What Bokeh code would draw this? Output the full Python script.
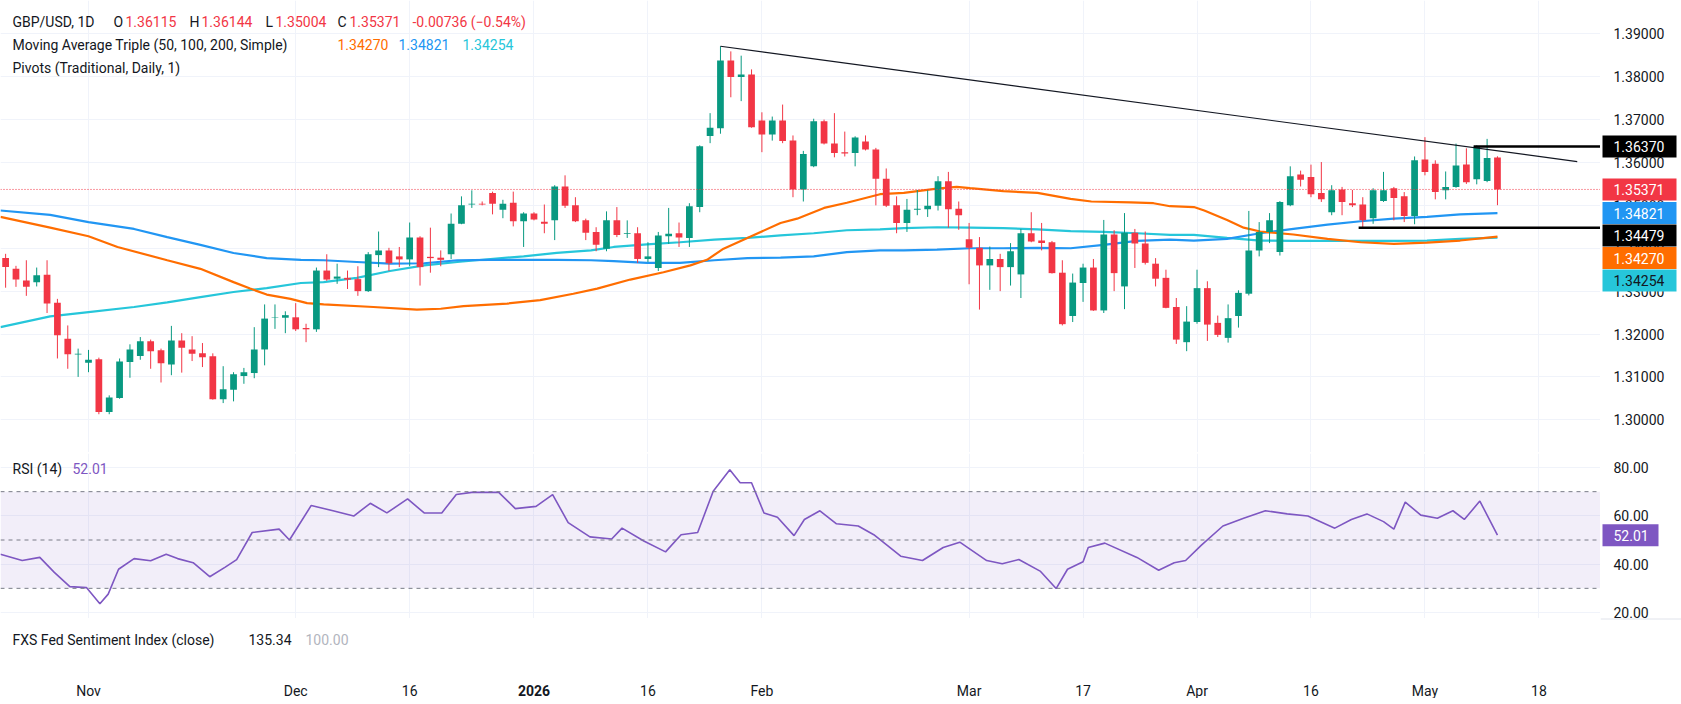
from bokeh.plotting import figure
from bokeh.layouts import column, row
from bokeh.models import ColumnDataSource, FixedTicker, Range1d, Label, Span, BoxAnnotation, Spacer
from bokeh.core.properties import value
from bokeh.embed import file_html
from bokeh.resources import INLINE

# ---------------- data ----------------
# trading-day index (0 = 3 Nov 2025)
bar_x = list(range(-8, 137))
opens = [1.3377, 1.3352, 1.3325, 1.3321, 1.3338, 1.3273, 1.3189, 1.3152, 1.3133, 1.3141, 1.3018, 1.3051, 1.3135, 1.3149, 1.3183, 1.3162, 1.3129, 1.3185, 1.3164, 1.3155, 1.3148, 1.3048, 1.3070, 1.3102, 1.3109, 1.3164, 1.3238, 1.3238, 1.3239, 1.3214, 1.3211, 1.3348, 1.3329, 1.3331, 1.3328, 1.3300, 1.3384, 1.3395, 1.3381, 1.3374, 1.3425, 1.3380, 1.3378, 1.3386, 1.3457, 1.3502, 1.3504, 1.3529, 1.3490, 1.3506, 1.3463, 1.3481, 1.3462, 1.3465, 1.3544, 1.3500, 1.3465, 1.3438, 1.3399, 1.3465, 1.3433, 1.3435, 1.3375, 1.3354, 1.3428, 1.3435, 1.3424, 1.3496, 1.3662, 1.3680, 1.3838, 1.3799, 1.3805, 1.3698, 1.3665, 1.3698, 1.3651, 1.3537, 1.3591, 1.3696, 1.3644, 1.3624, 1.3622, 1.3649, 1.3630, 1.3562, 1.3500, 1.3459, 1.3490, 1.3491, 1.3499, 1.3556, 1.3492, 1.3421, 1.3401, 1.3360, 1.3375, 1.3356, 1.3339, 1.3435, 1.3418, 1.3414, 1.3343, 1.3242, 1.3319, 1.3355, 1.3255, 1.3432, 1.3311, 1.3436, 1.3411, 1.3364, 1.3331, 1.3263, 1.3181, 1.3228, 1.3307, 1.3226, 1.3191, 1.3242, 1.3294, 1.3395, 1.3438, 1.3391, 1.3500, 1.3572, 1.3566, 1.3529, 1.3484, 1.3537, 1.3505, 1.3502, 1.3470, 1.3510, 1.3540, 1.3521, 1.3475, 1.3607, 1.3597, 1.3535, 1.3543, 1.3595, 1.3561, 1.3557, 1.36115]
highs = [1.3387, 1.3359, 1.3372, 1.3355, 1.3372, 1.3282, 1.3220, 1.3166, 1.3163, 1.3145, 1.3057, 1.3143, 1.3176, 1.3193, 1.3187, 1.3166, 1.3219, 1.3202, 1.3195, 1.3179, 1.3155, 1.3125, 1.3111, 1.3121, 1.3216, 1.3269, 1.3269, 1.3253, 1.3272, 1.3224, 1.3355, 1.3386, 1.3364, 1.3348, 1.3358, 1.3391, 1.3439, 1.3401, 1.3403, 1.3460, 1.3428, 1.3448, 1.3395, 1.3481, 1.3521, 1.3535, 1.3509, 1.3532, 1.3513, 1.3532, 1.3484, 1.3484, 1.3502, 1.3547, 1.3570, 1.3519, 1.3469, 1.3449, 1.3486, 1.3496, 1.3465, 1.3449, 1.3414, 1.3438, 1.3494, 1.3460, 1.3505, 1.3640, 1.3715, 1.3871, 1.3859, 1.3849, 1.3817, 1.3717, 1.3707, 1.3735, 1.3663, 1.3627, 1.3702, 1.3700, 1.3715, 1.3672, 1.3661, 1.3663, 1.3634, 1.3586, 1.3521, 1.3515, 1.3536, 1.3535, 1.3568, 1.3578, 1.3509, 1.3459, 1.3426, 1.3404, 1.3387, 1.3412, 1.3445, 1.3484, 1.3459, 1.3417, 1.3372, 1.3341, 1.3364, 1.3375, 1.3466, 1.3442, 1.3482, 1.3445, 1.3439, 1.3377, 1.3350, 1.3284, 1.3265, 1.3350, 1.3323, 1.3243, 1.3269, 1.3302, 1.3487, 1.3461, 1.3482, 1.3510, 1.3591, 1.3581, 1.3595, 1.3601, 1.3547, 1.3543, 1.3536, 1.3519, 1.3540, 1.3578, 1.3543, 1.3531, 1.3614, 1.3659, 1.3605, 1.3579, 1.3644, 1.3633, 1.3640, 1.3655, 1.36144]
lows = [1.3308, 1.3310, 1.3289, 1.3311, 1.3249, 1.3143, 1.3119, 1.3100, 1.3111, 1.3013, 1.3013, 1.3049, 1.3098, 1.3140, 1.3119, 1.3087, 1.3104, 1.3110, 1.3137, 1.3123, 1.3047, 1.3039, 1.3043, 1.3084, 1.3097, 1.3127, 1.3212, 1.3202, 1.3207, 1.3181, 1.3205, 1.3324, 1.3317, 1.3305, 1.3289, 1.3298, 1.3356, 1.3347, 1.3356, 1.3358, 1.3313, 1.3343, 1.3358, 1.3375, 1.3456, 1.3494, 1.3500, 1.3479, 1.3470, 1.3451, 1.3403, 1.3465, 1.3435, 1.3419, 1.3494, 1.3461, 1.3419, 1.3393, 1.3393, 1.3426, 1.3424, 1.3366, 1.3368, 1.3347, 1.3410, 1.3403, 1.3403, 1.3484, 1.3645, 1.3667, 1.3752, 1.3743, 1.3681, 1.3624, 1.3651, 1.3645, 1.3519, 1.3509, 1.3589, 1.3642, 1.3612, 1.3614, 1.3591, 1.3628, 1.3500, 1.3496, 1.3435, 1.3438, 1.3477, 1.3473, 1.3488, 1.3448, 1.3443, 1.3316, 1.3257, 1.3303, 1.3300, 1.3313, 1.3284, 1.3414, 1.3395, 1.3341, 1.3220, 1.3228, 1.3275, 1.3254, 1.3249, 1.3300, 1.3258, 1.3354, 1.3362, 1.3311, 1.3260, 1.3177, 1.3160, 1.3224, 1.3184, 1.3193, 1.3180, 1.3215, 1.3290, 1.3381, 1.3412, 1.3383, 1.3498, 1.3544, 1.3519, 1.3508, 1.3477, 1.3477, 1.3496, 1.3449, 1.3457, 1.3508, 1.3465, 1.3461, 1.3456, 1.3570, 1.3514, 1.3514, 1.3541, 1.3550, 1.3549, 1.3554, 1.35004]
closes = [1.3356, 1.3327, 1.3310, 1.3337, 1.3271, 1.3197, 1.3153, 1.3154, 1.3140, 1.3018, 1.3052, 1.3136, 1.3164, 1.3183, 1.3160, 1.3132, 1.3185, 1.3168, 1.3154, 1.3146, 1.3048, 1.3071, 1.3106, 1.3111, 1.3164, 1.3236, 1.3239, 1.3244, 1.3211, 1.3211, 1.3348, 1.3327, 1.3334, 1.3327, 1.3300, 1.3386, 1.3395, 1.3365, 1.3374, 1.3425, 1.3356, 1.3377, 1.3373, 1.3457, 1.3500, 1.3504, 1.3502, 1.3504, 1.3504, 1.3463, 1.3481, 1.3467, 1.3457, 1.3544, 1.3499, 1.3463, 1.3436, 1.3408, 1.3465, 1.3431, 1.3435, 1.3375, 1.3381, 1.3430, 1.3434, 1.3425, 1.3498, 1.3638, 1.3681, 1.3838, 1.3799, 1.3805, 1.3682, 1.3665, 1.3698, 1.3650, 1.3537, 1.3620, 1.3696, 1.3644, 1.3622, 1.3621, 1.3658, 1.3630, 1.3562, 1.3499, 1.3459, 1.3490, 1.3492, 1.3499, 1.3556, 1.3491, 1.3477, 1.3401, 1.3360, 1.3375, 1.3356, 1.3393, 1.3435, 1.3416, 1.3412, 1.3342, 1.3223, 1.3320, 1.3355, 1.3255, 1.3432, 1.3342, 1.3436, 1.3411, 1.3366, 1.3329, 1.3261, 1.3187, 1.3229, 1.3307, 1.3222, 1.3198, 1.3237, 1.3296, 1.3395, 1.3438, 1.3465, 1.3508, 1.3568, 1.3560, 1.3526, 1.3514, 1.3535, 1.3508, 1.3500, 1.3465, 1.3535, 1.3535, 1.3517, 1.3475, 1.3605, 1.3578, 1.3531, 1.3543, 1.3593, 1.3554, 1.3637, 1.36107, 1.35371]

# moving averages (50, 100, 200 simple), sampled along the bar index
sma50_x = [-8.5, -3.7, 0, 2.8, 7.6, 10.8, 14, 15.6, 17.2, 19.5, 21.1, 22.7, 27.5, 31.7, 34, 36.2, 40.4, 43.6, 46.8, 49.1, 52.3, 55.5, 58.1, 59.7, 61.3, 63.6, 66.8, 68.4, 71, 73.2, 76.4, 78.7, 81.9, 83.8, 85.1, 88.3, 91.6, 94.8, 96.8, 100.6, 102.8, 104.4, 106.7, 107.7, 109.9, 111.5, 113.1, 116.3, 119.6, 122.8, 126, 129.2, 132.4, 136]
sma50_y = [1.3473, 1.3448, 1.3428, 1.3403, 1.3372, 1.3352, 1.3321, 1.3306, 1.3292, 1.3282, 1.3272, 1.3269, 1.3263, 1.3257, 1.3259, 1.3265, 1.3271, 1.3279, 1.3294, 1.3306, 1.3327, 1.3344, 1.3360, 1.3373, 1.3399, 1.3424, 1.3459, 1.3469, 1.3494, 1.3506, 1.3526, 1.3529, 1.3539, 1.3543, 1.3540, 1.3533, 1.3529, 1.3515, 1.3509, 1.3507, 1.3505, 1.3498, 1.3496, 1.3488, 1.3466, 1.3448, 1.3439, 1.3432, 1.3422, 1.3414, 1.3410, 1.3413, 1.3418, 1.3427]
sma100_x = [-8.5, -3.7, 0, 4.4, 7.6, 10.8, 14, 17.2, 20.5, 22.7, 25.9, 29.1, 32.4, 35.6, 38.8, 42, 45.2, 48.5, 50.7, 53.9, 57.1, 60.4, 63.6, 66.8, 70, 73.2, 76.4, 78.7, 81.9, 85.1, 88.3, 91.6, 94.8, 98, 101.2, 104.4, 106.7, 109.9, 113.1, 116.3, 119.6, 122.8, 126, 129.2, 132.4, 136]
sma100_y = [1.3488, 1.3478, 1.3461, 1.3445, 1.3426, 1.3408, 1.3389, 1.3377, 1.3373, 1.3372, 1.3368, 1.3364, 1.3365, 1.3372, 1.3373, 1.3373, 1.3373, 1.3372, 1.3370, 1.3366, 1.3366, 1.3372, 1.3377, 1.3378, 1.3381, 1.3391, 1.3395, 1.3395, 1.3397, 1.3400, 1.3400, 1.3401, 1.3400, 1.3408, 1.3417, 1.3420, 1.3418, 1.3422, 1.3435, 1.3445, 1.3455, 1.3463, 1.3469, 1.3473, 1.3479, 1.3482]
sma200_x = [-8.5, -3.7, 0, 4.4, 7.6, 10.8, 14, 17.2, 20.5, 22.7, 25.9, 29.1, 32.4, 35.6, 38.8, 42, 45.2, 48.5, 50.7, 53.9, 57.1, 60.4, 63.6, 66.8, 70, 73.2, 76.4, 78.7, 81.9, 85.1, 88.3, 91.6, 94.8, 98, 101.2, 104.4, 106.7, 109.9, 113.1, 116.3, 119.6, 122.8, 126, 129.2, 132.4, 136]
sma200_y = [1.3216, 1.3241, 1.3251, 1.3263, 1.3274, 1.3286, 1.3298, 1.3307, 1.3319, 1.3321, 1.3331, 1.3347, 1.3360, 1.3368, 1.3375, 1.3381, 1.3389, 1.3395, 1.3403, 1.3409, 1.3414, 1.3420, 1.3424, 1.3430, 1.3435, 1.3442, 1.3444, 1.3447, 1.3449, 1.3448, 1.3447, 1.3444, 1.3440, 1.3438, 1.3435, 1.3431, 1.3431, 1.3424, 1.3418, 1.3417, 1.3417, 1.3417, 1.3417, 1.3418, 1.3422, 1.3425]

# RSI(14)
rsi_x = [-8.5, -6.4, -4.7, -3.3, -1.8, -0.2, 1.1, 1.9, 2.9, 4.4, 6.0, 7.5, 8.6, 10.1, 11.7, 13.2, 14.3, 15.8, 18.4, 19.4, 21.5, 23.6, 25.6, 27.2, 28.8, 30.8, 32.4, 34.1, 35.5, 37.0, 39.6, 41.2, 43.2, 44.8, 46.3, 48.4, 50.5, 51.5, 53.6, 55.7, 57.2, 58.8, 60.3, 61.9, 62.9, 64.0, 65.2, 66.5, 68.1, 69.1, 70.6, 72.2, 74.3, 75.8, 78.4, 80.5, 82.5, 84.1, 86.7, 88.2, 89.8, 91.9, 93.4, 94.5, 96.0, 96.5, 98.1, 101.2, 103.3, 104.8, 105.9, 107.4, 109.5, 111.5, 113.6, 115.7, 117.7, 120.3, 121.9, 123.4, 125.0, 126.0, 127.1, 128.6, 130.2, 131.7, 132.8, 134.3, 136]
rsi_y = [44.1, 41.5, 42.8, 36.6, 30.7, 30.3, 23.6, 27.6, 37.9, 42.3, 41.4, 44.1, 42.3, 40.6, 34.8, 38.8, 41.9, 53.1, 54.5, 50.0, 64.3, 62.1, 59.9, 65.2, 61.2, 67.0, 61.2, 61.2, 68.8, 69.7, 69.7, 63.0, 63.9, 68.8, 57.2, 51.3, 50.4, 54.9, 49.6, 45.1, 52.2, 53.1, 70.2, 79.1, 73.7, 73.7, 61.2, 59.4, 51.8, 58.5, 62.1, 56.7, 55.8, 52.2, 43.3, 41.5, 46.9, 49.1, 41.5, 40.2, 41.9, 37.0, 29.9, 37.9, 41.0, 46.9, 48.7, 42.8, 37.5, 40.6, 41.5, 47.8, 55.8, 59.0, 62.1, 60.8, 59.9, 54.9, 58.5, 60.8, 57.6, 54.5, 65.7, 60.3, 59.0, 62.1, 58.5, 66.1, 52.01]

# drawn objects
trend_x = [61, 143.7]
trend_y = [1.3871, 1.3602]
pivot_hi = 1.36370
pivot_lo = 1.34479
pivot_hi_start = 133.7
pivot_lo_start = 122.6
last_close = 1.35371
ma_last = [1.34270, 1.34821, 1.34254]
rsi_last = 52.01

price_ticks = [1.30, 1.31, 1.32, 1.33, 1.34, 1.35, 1.36, 1.37, 1.38, 1.39]
rsi_ticks = [20, 40, 60, 80]
date_ticks = [0, 20, 31, 43, 54, 65, 85, 96, 107, 118, 129, 140]
date_labels = ["Nov", "Dec", "16", "2026", "16", "Feb", "Mar", "17", "Apr", "16", "May", "18"]
year_tick = 43

# ---------------- styling ----------------
FONT = "Roboto"
TXT = "#131722"
UP = "#089981"
DOWN = "#f23645"
C50, C100, C200 = "#ff6d00", "#2196f3", "#26c6da"
PURPLE = "#7e57c2"
GRID = "#f0f3fa"
SEP = "#e0e3eb"
W = 1681
AXIS_W = 81
FRAME_W = W - AXIS_W
BAR_PX = 10.36
X0 = -88 / BAR_PX
X1 = X0 + FRAME_W / BAR_PX
xr = Range1d(X0, X1)

MAIN_H = 452
P_PX = 4289.0
P_TOP = 1.39 + 33.3 / P_PX
main_yr = Range1d(P_TOP - MAIN_H / P_PX, P_TOP)


def pane(height, yr, yticks=None, grid=True):
    f = figure(width=FRAME_W, height=height, x_range=xr, y_range=yr, output_backend="svg",
               toolbar_location=None, x_axis_location=None, y_axis_location=None,
               min_border=0, outline_line_color=None,
               background_fill_color="white", border_fill_color="white")
    f.xgrid.ticker = FixedTicker(ticks=date_ticks)
    if yticks is not None:
        f.ygrid.ticker = FixedTicker(ticks=yticks)
    f.grid.grid_line_color = GRID if grid else None
    return f


def scale(height, yr):
    s = figure(width=AXIS_W, height=height, x_range=Range1d(0, AXIS_W), y_range=yr, output_backend="svg",
               toolbar_location=None, x_axis_location=None, y_axis_location=None,
               min_border=0, outline_line_color=None,
               background_fill_color="white", border_fill_color="white")
    s.grid.visible = False
    return s


def separator(width=W):
    s = figure(width=width, height=1, x_range=Range1d(0, 1), y_range=Range1d(0, 1), output_backend="svg",
               toolbar_location=None, x_axis_location=None, y_axis_location=None, min_border=0,
               outline_line_color=None, background_fill_color=SEP, border_fill_color=SEP)
    s.grid.visible = False
    return s


def text_at(fig, x_px, y_px, text, color, size="14px", style="normal"):
    yr = fig.y_range
    x = X0 + x_px / BAR_PX
    y = yr.end - y_px * (yr.end - yr.start) / fig.height
    fig.add_layout(Label(x=x, y=y, text=text, text_color=color, text_font=FONT, text_font_size=size,
                         text_font_style=style, text_baseline="middle", text_align="left"))


def scale_labels(s, ticks, fmt):
    s.text(x=[13] * len(ticks), y=ticks, text=[fmt % t for t in ticks], text_font=value(FONT),
           text_font_size="14px", text_color=TXT, text_baseline="middle", text_align="left")


def scale_tags(s, ys, texts, bgs, fgs, px_per_unit, right):
    half = 11 / px_per_unit
    s.quad(left=2, right=right, top=[y + half for y in ys], bottom=[y - half for y in ys],
           fill_color=bgs, line_color=None)
    s.text(x=[13] * len(ys), y=ys, text=texts, text_color=fgs, text_font=value(FONT),
           text_font_size="14px", text_baseline="middle", text_align="left")


# ---------------- price pane ----------------
main = pane(MAIN_H, main_yr, price_ticks)
main.line(sma200_x, sma200_y, line_color=C200, line_width=2.2)
main.line(sma100_x, sma100_y, line_color=C100, line_width=2.2)
main.line(sma50_x, sma50_y, line_color=C50, line_width=2.2)

colors = [UP if c >= o else DOWN for o, c in zip(opens, closes)]
src = ColumnDataSource(dict(
    x=bar_x, h=highs, l=lows,
    top=[max(o, c) for o, c in zip(opens, closes)],
    bottom=[min(o, c) for o, c in zip(opens, closes)],
    color=colors))
main.segment(x0="x", y0="h", x1="x", y1="l", line_color="color", line_width=1, source=src)
main.vbar(x="x", width=0.65, top="top", bottom="bottom", fill_color="color", line_color=None, source=src)

main.add_layout(Span(location=last_close, dimension="width", line_color=DOWN, line_width=1, line_dash="1 2"))
main.line(trend_x, trend_y, line_color="#131722", line_width=1.2)
main.segment(x0=[pivot_hi_start, pivot_lo_start], y0=[pivot_hi, pivot_lo], x1=[X1, X1], y1=[pivot_hi, pivot_lo],
             line_color="black", line_width=2.5)

# legend lines
text_at(main, 12, 21, "GBP/USD, 1D", TXT)
for xp, t, c in [(113, "O", TXT), (125, f"{opens[-1]:.5f}", DOWN), (189, "H", TXT), (201, f"{highs[-1]:.5f}", DOWN),
                 (265, "L", TXT), (275, f"{lows[-1]:.5f}", DOWN), (337, "C", TXT), (349, f"{closes[-1]:.5f}", DOWN),
                 (412, "-0.00736 (\u22120.54%)", DOWN)]:
    text_at(main, xp, 21, t, c)
text_at(main, 12, 44, "Moving Average Triple (50, 100, 200, Simple)", TXT)
text_at(main, 337, 44, f"{ma_last[0]:.5f}", C50)
text_at(main, 398, 44, f"{ma_last[1]:.5f}", C100)
text_at(main, 462, 44, f"{ma_last[2]:.5f}", C200)
text_at(main, 12, 67, "Pivots (Traditional, Daily, 1)", TXT)

# price scale with value tags, stacked so they never overlap
main_scale = scale(MAIN_H, main_yr)
scale_labels(main_scale, price_ticks, "%.5f")
TAG_H = 22.5 / P_PX
tag_vals = [pivot_hi, last_close, ma_last[1], pivot_lo, ma_last[0], ma_last[2]]
tag_bg = ["#000000", DOWN, C100, "#000000", C50, C200]
tag_fg = ["white", "white", "white", "white", "white", TXT]
tag_y = []
for v in tag_vals:
    tag_y.append(v if not tag_y else min(v, tag_y[-1] - TAG_H))
scale_tags(main_scale, tag_y, [f"{v:.5f}" for v in tag_vals], tag_bg, tag_fg, P_PX, 76)

# ---------------- RSI pane ----------------
RSI_H = 165
R_PX = 145 / 60.0
rsi_top = 80 + 14 / R_PX
rsi_yr = Range1d(rsi_top - RSI_H / R_PX, rsi_top)
rsi = pane(RSI_H, rsi_yr, rsi_ticks)
rsi.add_layout(BoxAnnotation(bottom=30, top=70, fill_color=PURPLE, fill_alpha=0.1, line_color=None))
for lvl in (70, 50, 30):
    rsi.add_layout(Span(location=lvl, dimension="width", line_color="#787b86", line_width=1, line_dash="4 4"))
rsi.line(rsi_x, rsi_y, line_color=PURPLE, line_width=1.6)
text_at(rsi, 12, 15, "RSI (14)", TXT)
text_at(rsi, 72, 15, f"{rsi_last:.2f}", PURPLE)

# ---------------- sentiment pane ----------------
FXS_H = 43
fxs = pane(FXS_H, Range1d(0, 1), grid=False)
text_at(fxs, 12, 20, "FXS Fed Sentiment Index (close)", TXT)
text_at(fxs, 248, 20, "135.34", TXT)
text_at(fxs, 305, 20, "100.00", "#b2b5be")

# one scale column serves the RSI pane and the (unscaled) sentiment pane below it
LOWER_H = RSI_H + 1 + FXS_H
lower_scale = scale(LOWER_H, Range1d(rsi_top - LOWER_H / R_PX, rsi_top))
lower_scale.add_layout(Span(location=rsi_yr.start - 0.5 / R_PX, dimension="width", line_color=SEP, line_width=1))
scale_labels(lower_scale, rsi_ticks, "%.2f")
scale_tags(lower_scale, [rsi_last], [f"{rsi_last:.2f}"], [PURPLE], ["white"], R_PX, 58)

# ---------------- time scale ----------------
AX_H = 35
tscale = pane(AX_H, Range1d(0, AX_H), grid=False)
reg = [(t, l) for t, l in zip(date_ticks, date_labels) if t != year_tick]
tscale.text(x=[t for t, _ in reg], y=[AX_H - 27] * len(reg), text=[l for _, l in reg],
            text_font=value(FONT), text_font_size="14px", text_color=TXT,
            text_align="center", text_baseline="middle")
tscale.text(x=[year_tick], y=[AX_H - 27], text=[date_labels[date_ticks.index(year_tick)]],
            text_font=value(FONT), text_font_size="14px", text_font_style="bold", text_color=TXT,
            text_align="center", text_baseline="middle")

layout = column(
    row(main, main_scale, spacing=0),
    separator(),
    row(column(rsi, separator(FRAME_W), fxs, spacing=0), lower_scale, spacing=0),
    separator(),
    row(tscale, Spacer(width=AXIS_W, height=AX_H), spacing=0),
    separator(),
    spacing=0,
)
open("out.html", "w").write(file_html(layout, INLINE))
